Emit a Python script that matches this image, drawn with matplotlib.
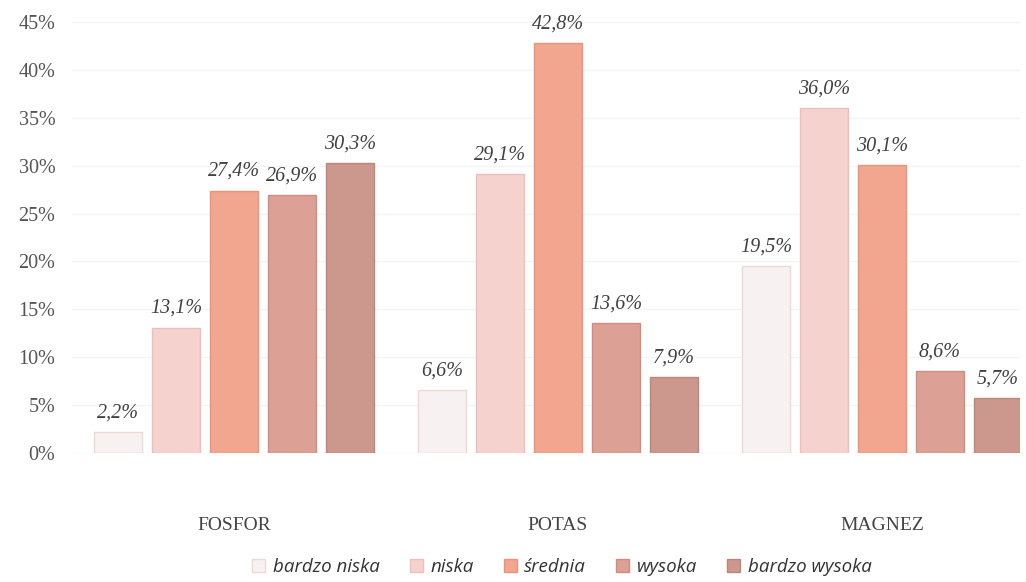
import matplotlib
matplotlib.use("Agg")
import matplotlib.pyplot as plt
import numpy as np

categories = ["FOSFOR", "POTAS", "MAGNEZ"]
series_names = ["bardzo niska", "niska", "średnia", "wysoka", "bardzo wysoka"]
bardzo_niska = [2.2, 6.6, 19.5]
niska = [13.1, 29.1, 36.0]
srednia = [27.4, 42.8, 30.1]
wysoka = [26.9, 13.6, 8.6]
bardzo_wysoka = [30.3, 7.9, 5.7]
series_values = [bardzo_niska, niska, srednia, wysoka, bardzo_wysoka]
y_ticks = [0, 5, 10, 15, 20, 25, 30, 35, 40, 45]

fills = ["#f8f1f1", "#f5d2ce", "#f2a68f", "#dca095", "#cc978d"]
edges = ["#ead9d7", "#ecc0ba", "#e6947c", "#cc8e83", "#bb867c"]

fig = plt.figure(figsize=(10.26, 5.82), dpi=100)
ax = fig.add_axes([72/1026, 1-453/582, (1020-72)/1026, (453-22)/582])

x = np.arange(len(categories))
step = 0.179
width = 0.146
serif = ["Liberation Serif", "DejaVu Serif"]
for i, (name, vals) in enumerate(zip(series_names, series_values)):
    pos = x + (i - 2) * step
    ax.bar(pos, vals, width=width, color=fills[i], edgecolor=edges[i],
           linewidth=1.0, label=name, zorder=2)
    for p, v in zip(pos, vals):
        ax.text(p, v + 1.0, f"{v:.1f}%".replace(".", ","), ha="center",
                va="bottom", fontsize=14.5, style="italic", color="#404040",
                family=serif)

ax.set_xlim(-0.5, 2.426)
ax.set_ylim(0, 45)
ax.set_yticks(y_ticks)
ax.set_yticklabels([f"{t}%" for t in y_ticks], fontsize=14.5, color="#555555",
                   family=serif)
ax.set_xticks(x)
ax.set_xticklabels(categories, fontsize=14, color="#444444", family=serif)
ax.tick_params(axis="both", length=0)
ax.tick_params(axis="x", pad=46)
ax.tick_params(axis="y", pad=12)
ax.yaxis.grid(True, color="#f4f4f4", linewidth=1.0, zorder=0)
ax.set_axisbelow(True)
for s in ax.spines.values():
    s.set_visible(False)

leg = fig.legend(loc="center", bbox_to_anchor=(562/1026, 1-567/582), ncol=5,
                 frameon=False, handlelength=0.7, handleheight=0.7,
                 handletextpad=0.4, columnspacing=1.6,
                 prop={"family": ["Open Sans", "DejaVu Sans"], "style": "italic", "size": 13.5})
for t in leg.get_texts():
    t.set_color("#333333")

fig.savefig("out.png", dpi=100)
